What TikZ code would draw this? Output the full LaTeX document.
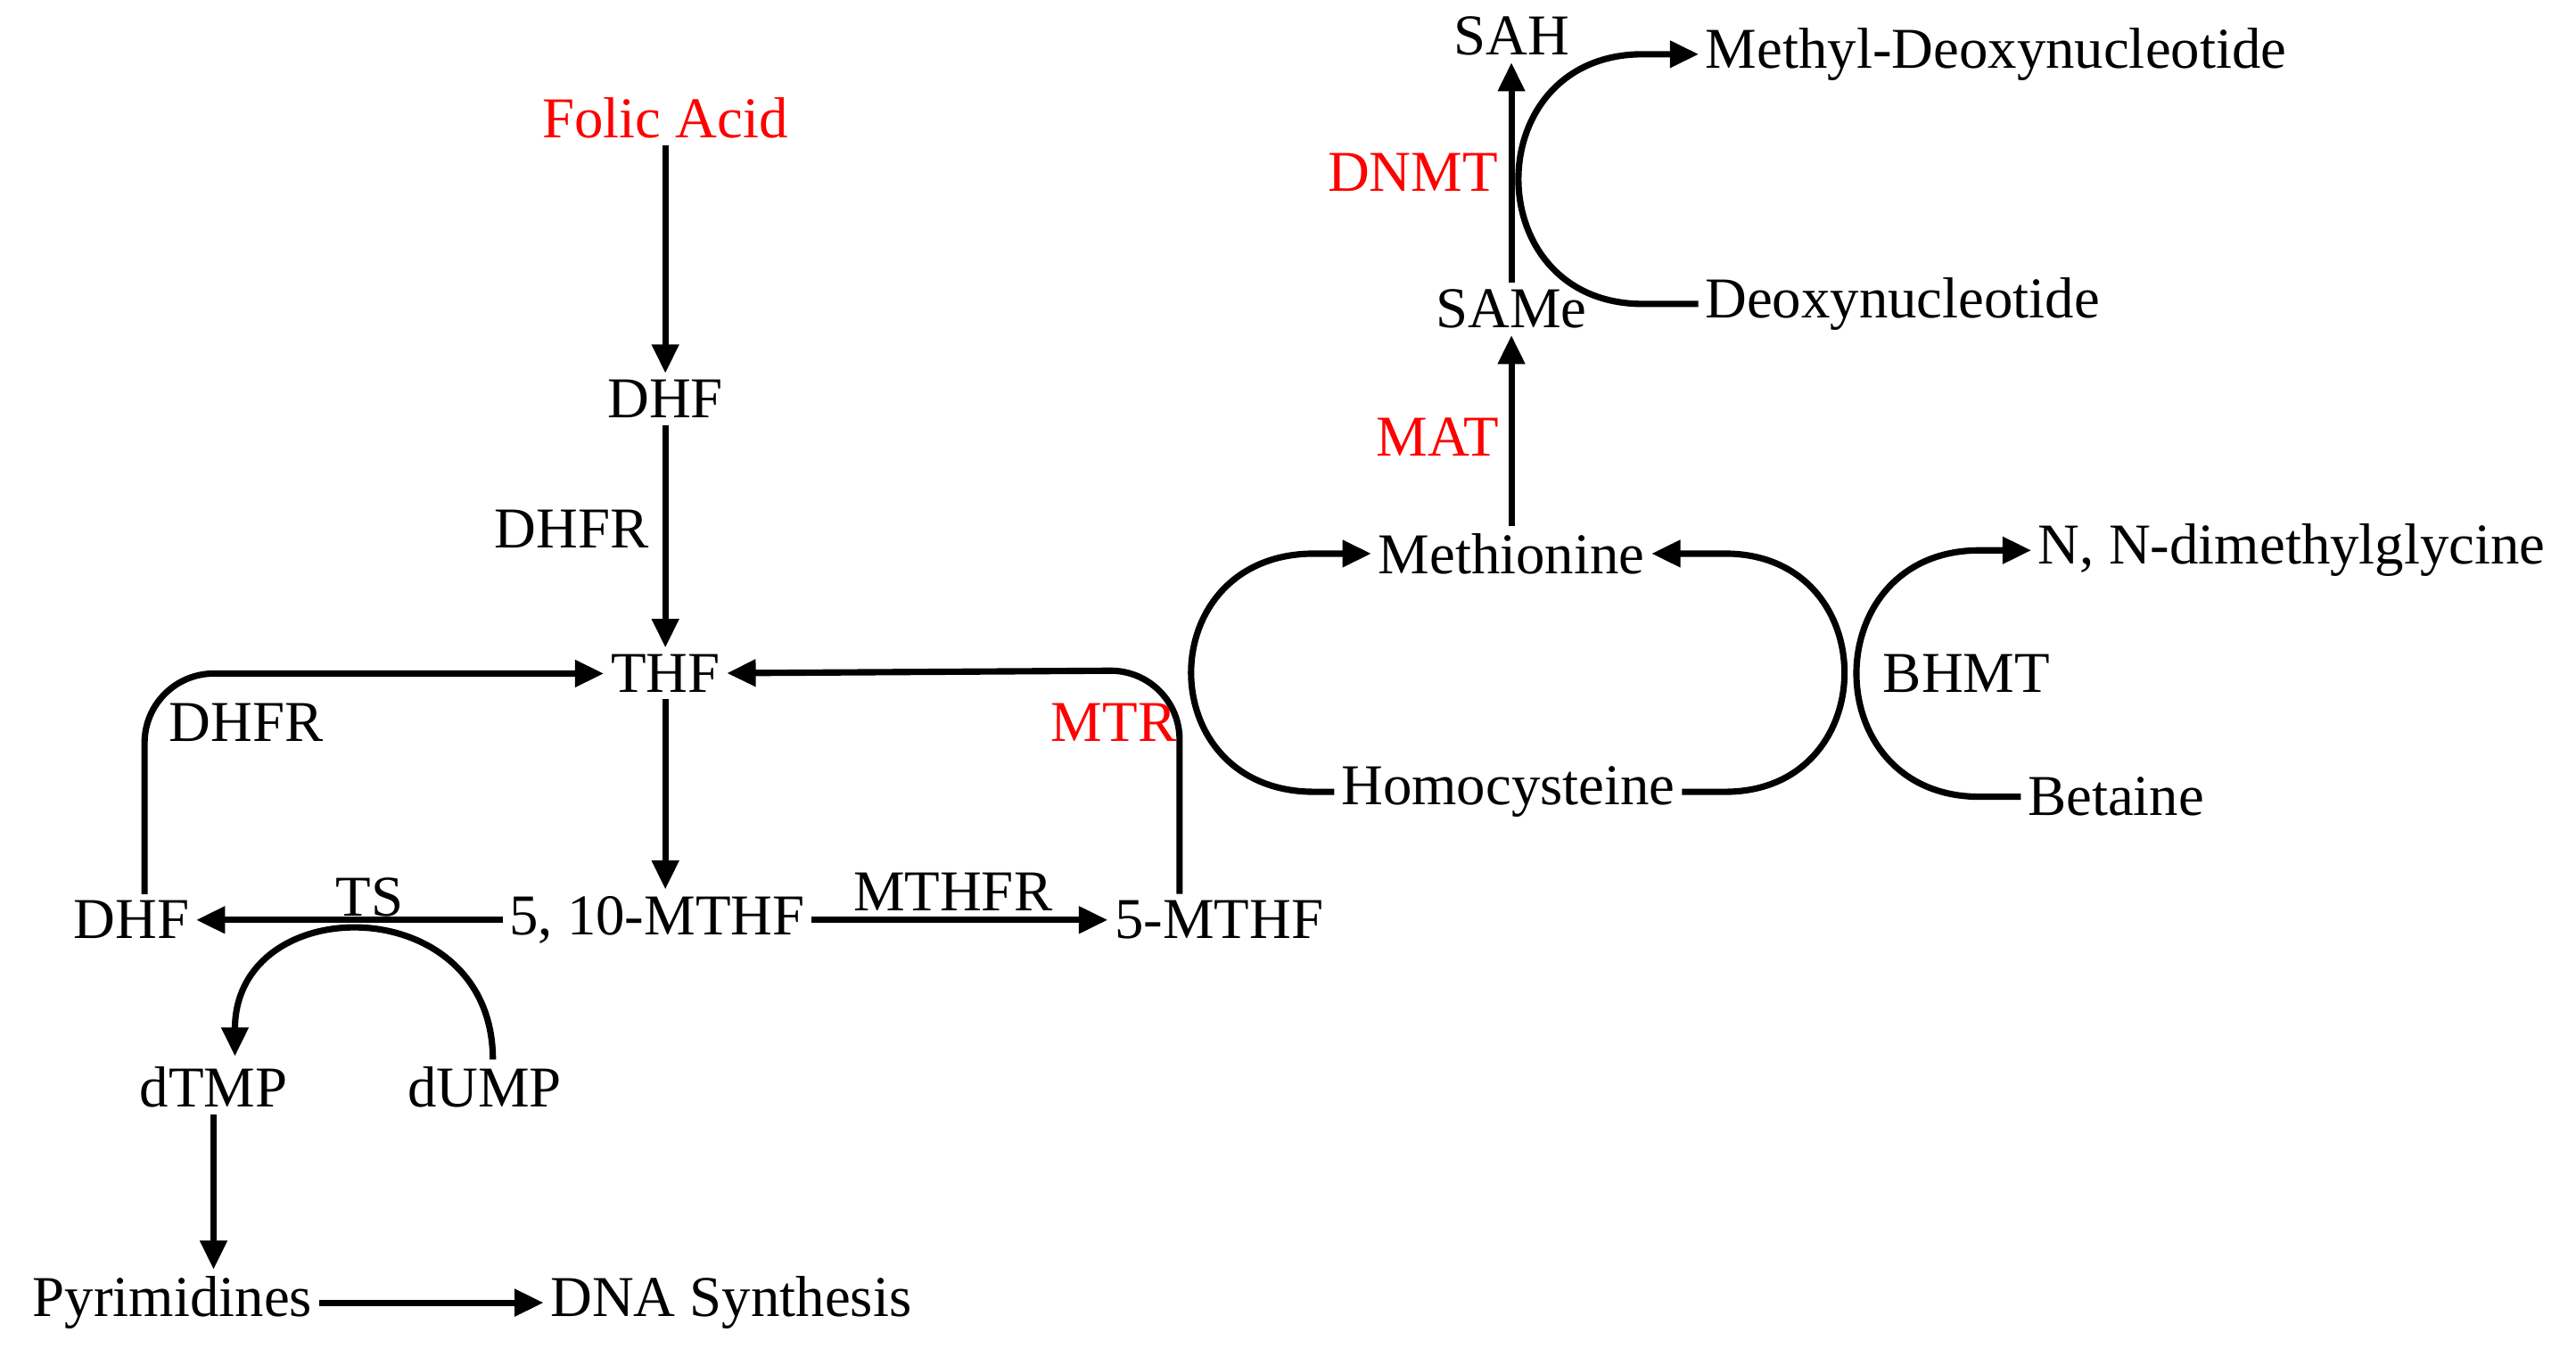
\documentclass[tikz,border=0pt]{standalone}
\usepackage{fontspec}
\setmainfont{Liberation Serif}
\usetikzlibrary{arrows.meta}
\begin{document}
\begin{tikzpicture}[x=0.01cm,y=-0.01cm,
  t/.style={inner sep=1pt,font=\fontsize{10}{12}\selectfont},
  r/.style={t,text=red},
  ln/.style={line width=1.1pt},
  ar/.style={ln,-{Triangle[length=5pt,width=4.5pt]}}]
\useasboundingbox (0,0) rectangle (1568,826);
\node[r] (fa) at (405,72) {Folic Acid};
\node[t] (dhf) at (405,243) {DHF};
\node[t] (dhfr) at (348,322) {DHFR};
\node[t] (thf) at (405,410) {THF};
\node[t] (mthf) at (400,560) {5, 10-MTHF};
\node[t] (dhf2) at (80,560) {DHF};
\node[t] (ts) at (225,546) {TS};
\node[t] (dtmp) at (130,662) {dTMP};
\node[t] (dump) at (295,662) {dUMP};
\node[t] (pyr) at (105,793) {Pyrimidines};
\node[t] (dna) at (445,793) {DNA Synthesis};
\node[t] (mthfr) at (580,543) {MTHFR};
\node[t] (fmthf) at (742,560) {5-MTHF};
\node[r] (mtr) at (678,440) {MTR};
\node[t] (dhfr2) at (150,440) {DHFR};
\node[t] (hcy) at (918,482) {Homocysteine};
\node[t] (met) at (920,337) {Methionine};
\node[t] (bhmt) at (1197,410) {BHMT};
\node[t] (dmg) at (1395,335) {N, N-dimethylglycine};
\node[t] (bet) at (1288,485) {Betaine};
\node[r] (mat) at (875,266) {MAT};
\node[t] (same) at (920,188) {SAMe};
\node[t] (deox) at (1158,185) {Deoxynucleotide};
\node[r] (dnmt) at (860,105) {DNMT};
\node[t] (sah) at (920,22) {SAH};
\node[t] (mdeox) at (1215,33) {Methyl-Deoxynucleotide};

\coordinate (c1) at (300,645);
\coordinate (c2) at (143,643);
\coordinate (c3) at (88,540);
\coordinate (c4) at (718,540);
\draw[ar] (fa) -- (dhf);
\draw[ar] (dhf) -- (thf);
\draw[ar] (thf.south) -- (thf.south |- mthf.north);
\draw[ar] (mthf) -- (fmthf);
\draw[ar] (mthf) -- (dhf2);
\draw[ar] (c1) .. controls (300,541) and (143,541) .. (c2);
\draw[ar,rounded corners=12pt] (dhf2.north -| c3) -- (88,410) -- (thf);
\draw[ar] (dtmp) -- (pyr.north -| dtmp);
\draw[ar] (pyr) -- (dna);
\draw[ar,rounded corners=12pt] (fmthf.north -| c4) -- (718,408) -- (thf);
\draw[ar] (hcy.west) -- (800,482) .. controls (700,482) and (700,337) .. (800,337) -- (met.west);
\draw[ar] (hcy.east) -- (1050,482) .. controls (1147,482) and (1147,337) .. (1050,337) -- (met.east);
\draw[ar] (bet.west) -- (1205,485) .. controls (1105,485) and (1105,335) .. (1205,335) -- (dmg.west);
\draw[ar] (met) -- (same);
\draw[ar] (same) -- (sah);
\draw[ar] (deox.west) -- (1000,185) .. controls (899,185) and (899,33) .. (1000,33) -- (mdeox.west);
\end{tikzpicture}
\end{document}
